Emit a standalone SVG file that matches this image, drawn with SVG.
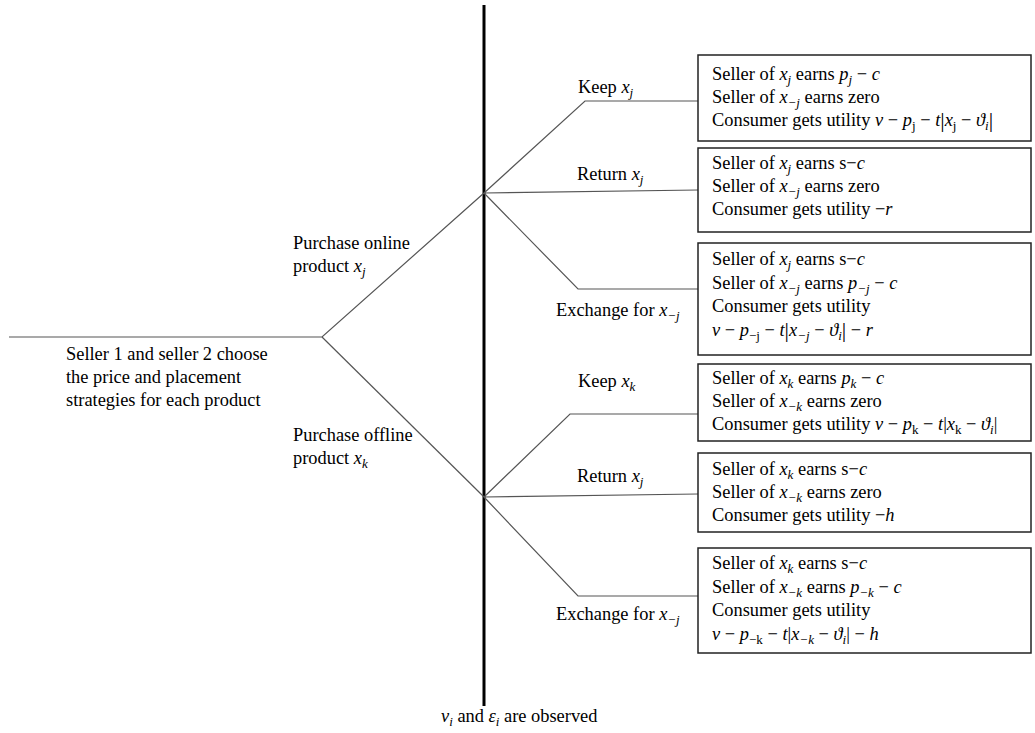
<svg xmlns="http://www.w3.org/2000/svg" width="1035" height="733" viewBox="0 0 1035 733">
<style>
.t{font-family:"Liberation Serif","Times New Roman",serif;font-size:18.4px;fill:#000}
.i{font-style:italic}
.s{font-size:13px}
.bar{font-size:22px}
.c{fill:none;stroke:#555;stroke-width:1.2}
.b{fill:#fff;stroke:#222;stroke-width:1.5}
</style>
<rect width="1035" height="733" fill="#fff"/>
<g id="connectors">
<line x1="484" y1="5" x2="484" y2="706" stroke="#000" stroke-width="3"/>
<polyline class="c" points="9,337 322,337 484,193"/>
<polyline class="c" points="322,337 484,497"/>
<polyline class="c" points="484,193 585,101 698,101"/>
<polyline class="c" points="484,193 698,190"/>
<polyline class="c" points="484,193 578,289 698,289"/>
<polyline class="c" points="484,497 570,414 698,414"/>
<polyline class="c" points="484,497 698,494"/>
<polyline class="c" points="484,497 578,596 698,596"/>
</g>
<g id="start">
<text class="t" x="66" y="360">Seller 1 and seller 2 choose</text>
<text class="t" x="66" y="383">the price and placement</text>
<text class="t" x="66" y="406">strategies for each product</text>
</g>
<g id="online">
<text class="t" x="293" y="249">Purchase online</text>
<text class="t" x="293" y="272">product <tspan class="i">x</tspan><tspan class="i s" dy="4">j</tspan></text>
</g>
<g id="offline">
<text class="t" x="293" y="441">Purchase offline</text>
<text class="t" x="293" y="464">product <tspan class="i">x</tspan><tspan class="i s" dy="4">k</tspan></text>
</g>
<g id="observed">
<text class="t" x="441" y="722"><tspan class="i">v</tspan><tspan class="i s" dy="4">i</tspan><tspan dy="-4"> and </tspan><tspan class="i">ε</tspan><tspan class="i s" dy="4">i</tspan><tspan dy="-4"> are observed</tspan></text>
</g>
<g id="labels">
<text class="t" x="578" y="93">Keep <tspan class="i">x</tspan><tspan class="i s" dy="4">j</tspan></text>
<text class="t" x="577" y="180">Return <tspan class="i">x</tspan><tspan class="i s" dy="4">j</tspan></text>
<text class="t" x="556" y="316">Exchange for <tspan class="i">x</tspan><tspan class="i s" dy="4">−j</tspan></text>
<text class="t" x="578" y="387">Keep <tspan class="i">x</tspan><tspan class="i s" dy="4">k</tspan></text>
<text class="t" x="577" y="482">Return <tspan class="i">x</tspan><tspan class="i s" dy="4">j</tspan></text>
<text class="t" x="556" y="620">Exchange for <tspan class="i">x</tspan><tspan class="i s" dy="4">−j</tspan></text>
</g>
<g id="box1">
<rect class="b" x="698" y="55" width="333" height="86"/>
<text class="t" x="712" y="80">Seller of <tspan class="i">x</tspan><tspan class="i s" dy="4">j</tspan><tspan dy="-4"> earns </tspan><tspan class="i">p</tspan><tspan class="i s" dy="4">j</tspan><tspan dy="-4"> − </tspan><tspan class="i">c</tspan></text>
<text class="t" x="712" y="103">Seller of <tspan class="i">x</tspan><tspan class="i s" dy="4">−j</tspan><tspan dy="-4"> earns zero</tspan></text>
<text class="t" x="712" y="126">Consumer gets utility <tspan class="i">v</tspan> − <tspan class="i">p</tspan><tspan class="s" dy="4">j</tspan><tspan dy="-4"> − </tspan><tspan class="i">t</tspan><tspan class="bar" dy="1">|</tspan><tspan class="i" dy="-1">x</tspan><tspan class="s" dy="4">j</tspan><tspan dy="-4"> − </tspan><tspan class="i">ϑ</tspan><tspan class="i s" dy="4">i</tspan><tspan class="bar" dy="-3">|</tspan></text>
</g>
<g id="box2">
<rect class="b" x="698" y="148" width="333" height="84"/>
<text class="t" x="712" y="169">Seller of <tspan class="i">x</tspan><tspan class="i s" dy="4">j</tspan><tspan dy="-4"> earns s−</tspan><tspan class="i">c</tspan></text>
<text class="t" x="712" y="192">Seller of <tspan class="i">x</tspan><tspan class="i s" dy="4">−j</tspan><tspan dy="-4"> earns zero</tspan></text>
<text class="t" x="712" y="215">Consumer gets utility −<tspan class="i">r</tspan></text>
</g>
<g id="box3">
<rect class="b" x="698" y="243" width="333" height="112"/>
<text class="t" x="712" y="265">Seller of <tspan class="i">x</tspan><tspan class="i s" dy="4">j</tspan><tspan dy="-4"> earns s−</tspan><tspan class="i">c</tspan></text>
<text class="t" x="712" y="289">Seller of <tspan class="i">x</tspan><tspan class="i s" dy="4">−j</tspan><tspan dy="-4"> earns </tspan><tspan class="i">p</tspan><tspan class="i s" dy="4">−j</tspan><tspan dy="-4"> − </tspan><tspan class="i">c</tspan></text>
<text class="t" x="712" y="312">Consumer gets utility</text>
<text class="t" x="712" y="336"><tspan class="i">v</tspan> − <tspan class="i">p</tspan><tspan class="s" dy="4">−j</tspan><tspan dy="-4"> − </tspan><tspan class="i">t</tspan><tspan class="bar" dy="1">|</tspan><tspan class="i" dy="-1">x</tspan><tspan class="i s" dy="4">−j</tspan><tspan dy="-4"> − </tspan><tspan class="i">ϑ</tspan><tspan class="i s" dy="4">i</tspan><tspan class="bar" dy="-3">|</tspan><tspan dy="-1"> − </tspan><tspan class="i">r</tspan></text>
</g>
<g id="box4">
<rect class="b" x="698" y="364" width="333" height="77"/>
<text class="t" x="712" y="384">Seller of <tspan class="i">x</tspan><tspan class="i s" dy="4">k</tspan><tspan dy="-4"> earns </tspan><tspan class="i">p</tspan><tspan class="i s" dy="4">k</tspan><tspan dy="-4"> − </tspan><tspan class="i">c</tspan></text>
<text class="t" x="712" y="407">Seller of <tspan class="i">x</tspan><tspan class="i s" dy="4">−k</tspan><tspan dy="-4"> earns zero</tspan></text>
<text class="t" x="712" y="430">Consumer gets utility <tspan class="i">v</tspan> − <tspan class="i">p</tspan><tspan class="s" dy="4">k</tspan><tspan dy="-4"> − </tspan><tspan class="i">t</tspan>|<tspan class="i">x</tspan><tspan class="s" dy="4">k</tspan><tspan dy="-4"> − </tspan><tspan class="i">ϑ</tspan><tspan class="i s" dy="4">i</tspan><tspan dy="-4">|</tspan></text>
</g>
<g id="box5">
<rect class="b" x="698" y="453" width="333" height="79"/>
<text class="t" x="712" y="475">Seller of <tspan class="i">x</tspan><tspan class="i s" dy="4">k</tspan><tspan dy="-4"> earns s−</tspan><tspan class="i">c</tspan></text>
<text class="t" x="712" y="498">Seller of <tspan class="i">x</tspan><tspan class="i s" dy="4">−k</tspan><tspan dy="-4"> earns zero</tspan></text>
<text class="t" x="712" y="521">Consumer gets utility −<tspan class="i">h</tspan></text>
</g>
<g id="box6">
<rect class="b" x="698" y="548" width="333" height="105"/>
<text class="t" x="712" y="569">Seller of <tspan class="i">x</tspan><tspan class="i s" dy="4">k</tspan><tspan dy="-4"> earns s−</tspan><tspan class="i">c</tspan></text>
<text class="t" x="712" y="593">Seller of <tspan class="i">x</tspan><tspan class="i s" dy="4">−k</tspan><tspan dy="-4"> earns </tspan><tspan class="i">p</tspan><tspan class="i s" dy="4">−k</tspan><tspan dy="-4"> − </tspan><tspan class="i">c</tspan></text>
<text class="t" x="712" y="616">Consumer gets utility</text>
<text class="t" x="712" y="640"><tspan class="i">v</tspan> − <tspan class="i">p</tspan><tspan class="s" dy="4">−k</tspan><tspan dy="-4"> − </tspan><tspan class="i">t</tspan>|<tspan class="i">x</tspan><tspan class="i s" dy="4">−k</tspan><tspan dy="-4"> − </tspan><tspan class="i">ϑ</tspan><tspan class="i s" dy="4">i</tspan><tspan dy="-4">| − </tspan><tspan class="i">h</tspan></text>
</g>
</svg>
